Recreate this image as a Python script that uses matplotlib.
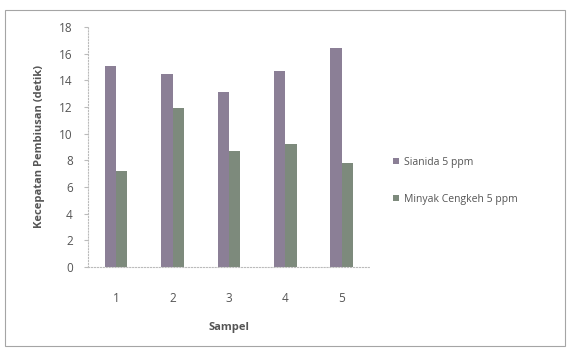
import matplotlib
matplotlib.use('Agg')
import matplotlib.pyplot as plt
import numpy as np

samples = ['1', '2', '3', '4', '5']
sianida = [15.1, 14.5, 13.1, 14.7, 16.4]
cengkeh = [7.2, 11.9, 8.7, 9.2, 7.8]
labels = ['Sianida 5 ppm', 'Minyak Cengkeh 5 ppm']

plt.rcParams['font.family'] = ['Open Sans', 'DejaVu Sans']
txt = '#555555'

fig = plt.figure(figsize=(5.68, 3.49), dpi=100)
fig.patch.set_facecolor('white')

# faint frame of the scanned chart
frame = plt.Rectangle((0.009, 0.01), 0.985, 0.962, transform=fig.transFigure,
                      fill=False, edgecolor='#a5a5a5', linewidth=0.8)
fig.add_artist(frame)

ax = fig.add_axes([0.155, 0.235, 0.496, 0.688])
x = np.arange(len(samples))
w = 0.2
ax.bar(x - w / 2, sianida, w, color='#8b7f96', label=labels[0])
ax.bar(x + w / 2, cengkeh, w, color='#7d8a7c', label=labels[1])

ax.set_xlim(-0.5, 4.5)
ax.set_ylim(0, 18)
ax.set_yticks(range(0, 19, 2))
ax.set_xticks(x)
ax.set_xticklabels(samples)

for s in ['top', 'right']:
    ax.spines[s].set_visible(False)
for s in ['left', 'bottom']:
    ax.spines[s].set_color('#bbbbbb')
    ax.spines[s].set_linewidth(0.8)
    ax.spines[s].set_linestyle(':')

ax.tick_params(axis='y', length=3, color='#bbbbbb', labelsize=8.5, labelcolor=txt, pad=8)
ax.tick_params(axis='x', length=0, labelsize=8.5, labelcolor=txt, pad=18)

ax.set_ylabel('Kecepatan Pembiusan (detik)', fontsize=8, fontweight='bold', color=txt, labelpad=10)
ax.set_xlabel('Sampel', fontsize=8, fontweight='bold', color=txt, labelpad=12)

ax.legend(loc='center left', bbox_to_anchor=(1.05, 0.36), frameon=False,
          fontsize=7.5, labelcolor=txt, handlelength=0.6, handleheight=0.6,
          handletextpad=0.4, labelspacing=2.5)

fig.savefig('out.png', dpi=100)
